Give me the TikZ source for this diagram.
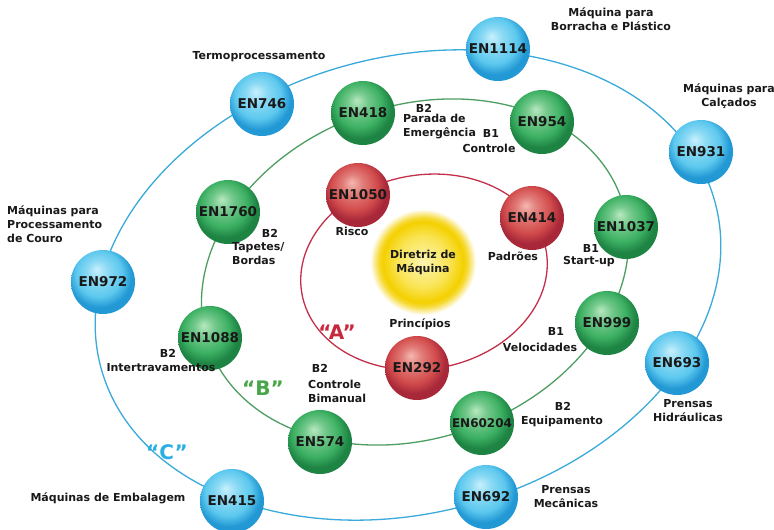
\documentclass[tikz,border=0pt]{standalone}
\usepackage{fontspec}
\setmainfont{DejaVu Sans}
\definecolor{ringblue}{HTML}{3AAADA}
\definecolor{ringgreen}{HTML}{4E9E62}
\definecolor{ringred}{HTML}{C2304A}
\definecolor{txtA}{HTML}{C8283C}
\definecolor{txtB}{HTML}{46A648}
\definecolor{txtC}{HTML}{2BAEE2}
\definecolor{bHi}{HTML}{C8F0FC}
\definecolor{bMid}{HTML}{5CC8EE}
\definecolor{bLo}{HTML}{2298D4}
\definecolor{gHi}{HTML}{B8E8C0}
\definecolor{gMid}{HTML}{3CB062}
\definecolor{gLo}{HTML}{1E8444}
\definecolor{rHi}{HTML}{F4B8B0}
\definecolor{rMid}{HTML}{D24C4C}
\definecolor{rLo}{HTML}{A8283A}
\definecolor{yC}{HTML}{FDF4B0}
\definecolor{yM}{HTML}{F8DE30}
\definecolor{yE}{HTML}{F4D000}
\pgfdeclareradialshading{blueball}{\pgfpoint{-5bp}{10bp}}{color(0bp)=(bHi); color(8bp)=(bMid!55!bHi); color(18bp)=(bMid); color(25bp)=(bLo); color(50bp)=(bLo)}
\pgfdeclareradialshading{greenball}{\pgfpoint{-5bp}{10bp}}{color(0bp)=(gHi); color(8bp)=(gMid!55!gHi); color(18bp)=(gMid); color(25bp)=(gLo); color(50bp)=(gLo)}
\pgfdeclareradialshading{redball}{\pgfpoint{-5bp}{10bp}}{color(0bp)=(rHi); color(8bp)=(rMid!55!rHi); color(18bp)=(rMid); color(25bp)=(rLo); color(50bp)=(rLo)}
\pgfdeclareradialshading{glow}{\pgfpoint{0bp}{0bp}}{color(0bp)=(yC); color(12bp)=(yM!70!yC); color(19bp)=(yE); color(21bp)=(yE!80!white); color(25bp)=(white); color(50bp)=(white)}
\tikzset{
  ball/.style={circle, minimum size=64pt, inner sep=0pt, shade, font=\bfseries\fontsize{13.5}{13.5}\selectfont, text=black!90},
  bnode/.style={ball, shading=blueball},
  gnode/.style={ball, shading=greenball},
  rnode/.style={ball, shading=redball},
  lbl/.style={inner sep=0pt, font=\bfseries\fontsize{11}{14}\selectfont, text=black!90, align=center},
  big/.style={inner sep=0pt, font=\bfseries\fontsize{20}{20}\selectfont},
  ring/.style={line width=1.3pt}
}
\begin{document}
\begin{tikzpicture}[x=1pt,y=-1pt]
\useasboundingbox[fill=white] (0,0) rectangle (774,530);
% rings
\draw[ring, ringblue, rotate around={15:(408,285)}] (408,285) ellipse [x radius=318pt, y radius=228pt];
\draw[ring, ringgreen, rotate around={20:(415,272)}] (415,272) ellipse [x radius=219pt, y radius=166pt];
\draw[ring, ringred, rotate around={10:(424,272)}] (424,272) ellipse [x radius=124pt, y radius=97pt];
% centre
\node[circle, minimum size=106pt, inner sep=0pt, shade, shading=glow, lbl] (dir) at (423,262) {Diretriz de\\Máquina};
% outer (blue)
\node[bnode] (n1114) at (498,49) {EN1114};
\node[bnode] (n931) at (701,152) {EN931};
\node[bnode] (n693) at (677,363) {EN693};
\node[bnode] (n692) at (486,497) {EN692};
\node[bnode] (n415) at (232,501) {EN415};
\node[bnode] (n972) at (103,282) {EN972};
\node[bnode] (n746) at (262,104) {EN746};
% middle (green)
\node[gnode] (n418) at (363,113) {EN418};
\node[gnode] (n954) at (542,122) {EN954};
\node[gnode] (n1037) at (626,227) {EN1037};
\node[gnode] (n999) at (607,323) {EN999};
\node[gnode, font=\bfseries\fontsize{12}{12}\selectfont] (n60204) at (482,423) {EN60204};
\node[gnode] (n574) at (320,442) {EN574};
\node[gnode] (n1088) at (210,338) {EN1088};
\node[gnode] (n1760) at (228,212) {EN1760};
% inner (red)
\node[rnode] (n1050) at (358,195) {EN1050};
\node[rnode] (n414) at (532,218) {EN414};
\node[rnode] (n292) at (417,368) {EN292};
% labels
\node[lbl] (l1114) at (611,19) {Máquina para\\Borracha e Plástico};
\node[lbl] (l746) at (259,57) {Termoprocessamento};
\node[lbl] (l931) at (729,96) {Máquinas para\\Calçados};
\node[lbl] (b418) at (424,108) {B2};
\node[lbl, anchor=west, align=left] (l418) at (403,126.5) {Parada de\\Emergência};
\node[lbl] (b954) at (491,133) {B1};
\node[lbl] (l954) at (489,148) {Controle};
\node[lbl, anchor=west, align=left] (l972) at (7,224) {Máquinas para\\Processamento\\de Couro};
\node[lbl] (b1760) at (270,233) {B2};
\node[lbl, anchor=west, align=left] (l1760) at (232,253.5) {Tapetes/\\Bordas};
\node[lbl] (l1050) at (352,231) {Risco};
\node[lbl] (l414) at (513,256) {Padrões};
\node[lbl] (b1037) at (591,248) {B1};
\node[lbl] (l1037) at (589,262) {Start-up};
\node[lbl] (l292) at (420,324) {Princípios};
\node[big, text=txtA] (tA) at (337,332) {“A”};
\node[big, text=txtB] (tB) at (263,388) {“B”};
\node[big, text=txtC] (tC) at (167,452) {“C”};
\node[lbl] (b999) at (556,331) {B1};
\node[lbl] (l999) at (540,347) {Velocidades};
\node[lbl] (b1088) at (168,353) {B2};
\node[lbl] (l1088) at (161,368) {Intertravamentos};
\node[lbl] (b574) at (320,368) {B2};
\node[lbl, anchor=west, align=left] (l574) at (308,391) {Controle\\Bimanual};
\node[lbl] (b60204) at (563,406) {B2};
\node[lbl] (l60204) at (562,421) {Equipamento};
\node[lbl] (l693) at (688,411) {Prensas\\Hidráulicas};
\node[lbl] (l692) at (566,497) {Prensas\\Mecânicas};
\node[lbl] (l415) at (108,498) {Máquinas de Embalagem};
\end{tikzpicture}
\end{document}
